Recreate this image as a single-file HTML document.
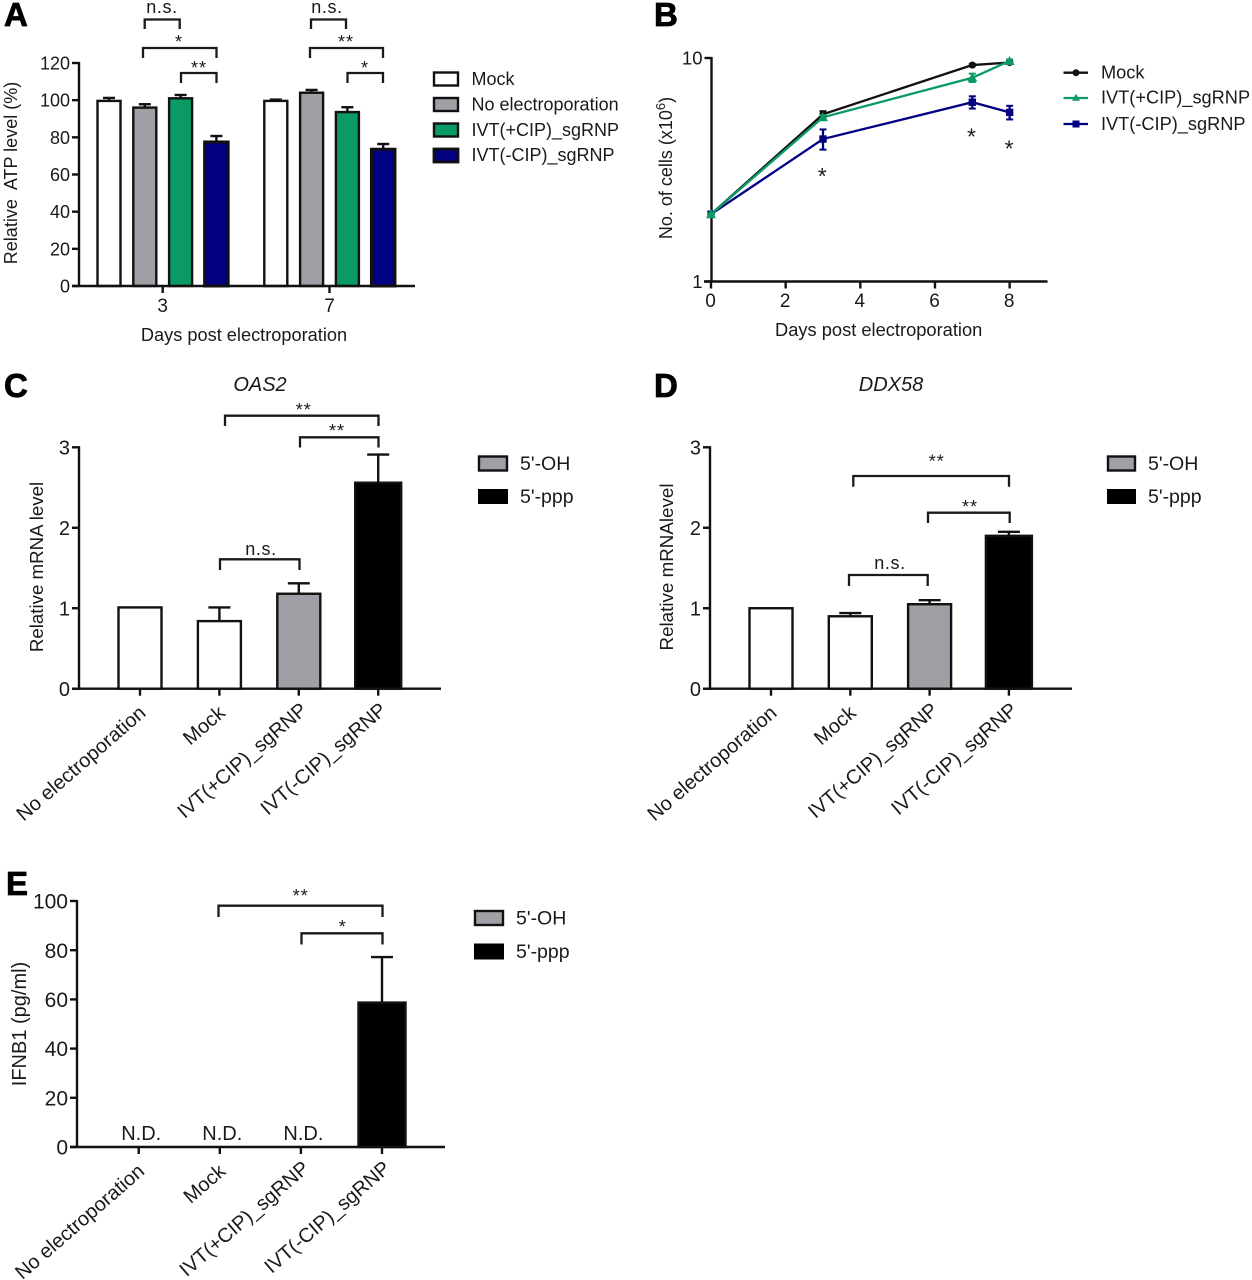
<!DOCTYPE html>
<html lang="en">
<head>
<meta charset="utf-8">
<title>Five panel figure of cell viability and innate immune response</title>
<style>
  html, body { margin: 0; padding: 0; background: #fff; }
  svg { display: block; }
  text { font-family: "Liberation Sans", Arial, sans-serif; font-size: 18px; fill: #1a1a1a; }
  .letter { font-size: 33px; font-weight: bold; fill: #000; stroke: #000; stroke-width: 0.8px; }
  .ann { fill: none; stroke: #1a1a1a; stroke-width: 2.3; }
  .ns { letter-spacing: 0.6px; text-anchor: middle; }
  .star { letter-spacing: 1px; text-anchor: middle; }
  .mid { text-anchor: middle; }
  .title { font-style: italic; text-anchor: middle; font-size: 20px; }
  .big { font-size: 19.5px; }
</style>
</head>
<body>
<svg id="figure" xmlns="http://www.w3.org/2000/svg" width="1252" height="1280" viewBox="0 0 1252 1280">
  <rect x="0" y="0" width="1252" height="1280" fill="#ffffff"/>

  <!-- panel letters -->
  <text class="letter" x="4" y="26">A</text>
  <text class="letter" x="654" y="26">B</text>
  <text class="letter" x="4" y="397">C</text>
  <text class="letter" x="654" y="397">D</text>
  <text class="letter" x="6" y="895">E</text>

  <!-- panel A annotations -->
  <g>
    <path class="ann" d="M144.7 29V19.5H179.7V29"/>
    <text class="ns" x="162" y="13">n.s.</text>
    <path class="ann" d="M143 58V48H216.5V58"/>
    <text class="star" x="179" y="48">*</text>
    <path class="ann" d="M181 83V73H216.5V83"/>
    <text class="star" x="199" y="74">**</text>
    <path class="ann" d="M311 29V19.5H346V29"/>
    <text class="ns" x="327" y="13">n.s.</text>
    <path class="ann" d="M310 58V48H383V58"/>
    <text class="star" x="346" y="48">**</text>
    <path class="ann" d="M347.5 83V73H383V83"/>
    <text class="star" x="365" y="74">*</text>
  </g>
  <text class="mid" transform="translate(17 173) rotate(-90)" xml:space="preserve">Relative  ATP level (%)</text>
  <text class="mid" x="244" y="341" style="font-size:18.2px">Days post electroporation</text>

  <!-- panel A legend -->
  <g>
    <rect x="434" y="72.5" width="24" height="13" fill="#ffffff" stroke="#111" stroke-width="2.4"/>
    <text x="471.5" y="85">Mock</text>
    <rect x="434" y="98" width="24" height="13" fill="#9f9fa5" stroke="#111" stroke-width="2.4"/>
    <text x="471.5" y="110.7">No electroporation</text>
    <rect x="434" y="123.5" width="24" height="13" fill="#0a9b64" stroke="#111" stroke-width="2.4"/>
    <text x="471.5" y="136">IVT(+CIP)_sgRNP</text>
    <rect x="434" y="149" width="24" height="13" fill="#000080" stroke="#111" stroke-width="2.8"/>
    <text x="471.5" y="161">IVT(-CIP)_sgRNP</text>
  </g>

  <!-- panel B static -->
  <text class="mid" transform="translate(672 168) rotate(-90)">No. of cells (x10<tspan dy="-7" style="font-size:13px">6</tspan><tspan dy="7">)</tspan></text>
  <text class="mid" x="878.7" y="336" style="font-size:18.3px">Days post electroporation</text>
  <text class="star" x="822.7" y="184" style="font-size:23px">*</text>
  <text class="star" x="972" y="144.3" style="font-size:23px">*</text>
  <text class="star" x="1009.6" y="156.3" style="font-size:23px">*</text>
  <g>
    <path d="M1063.5 72.7H1088" stroke="#111" stroke-width="2.3" fill="none"/>
    <circle cx="1076" cy="72.7" r="3.5" fill="#111"/>
    <text x="1101" y="78.5" style="font-size:18.2px">Mock</text>
    <path d="M1063.5 98H1088" stroke="#0a9b64" stroke-width="2.3" fill="none"/>
    <path d="M1076 93.8L1080 100.8H1072Z" fill="#0a9b64"/>
    <text x="1101" y="103.5" style="font-size:18.2px">IVT(+CIP)_sgRNP</text>
    <path d="M1063.5 124H1088" stroke="#000080" stroke-width="2.3" fill="none"/>
    <rect x="1072.5" y="120.5" width="7" height="7" fill="#000080"/>
    <text x="1101" y="130" style="font-size:18.2px">IVT(-CIP)_sgRNP</text>
  </g>

  <!-- panel C static -->
  <text class="title" x="260" y="391">OAS2</text>
  <text class="mid" transform="translate(43 567) rotate(-90)" style="font-size:18.7px">Relative mRNA level</text>
  <g>
    <path class="ann" d="M225 426V415.7H378.5V426"/>
    <text class="star" x="303.7" y="416">**</text>
    <path class="ann" d="M300 447.5V437.3H378.5V447.5"/>
    <text class="star" x="337" y="437">**</text>
    <path class="ann" d="M220 570V559.3H299.5V570"/>
    <text class="ns" x="261" y="555">n.s.</text>
  </g>
  <g>
    <rect x="479" y="456.5" width="28" height="14" fill="#9f9fa5" stroke="#111" stroke-width="2.4"/>
    <text class="big" x="520" y="470">5'-OH</text>
    <rect x="478" y="489" width="30" height="15" fill="#000"/>
    <text class="big" x="520" y="503">5'-ppp</text>
  </g>

  <!-- panel D static -->
  <text class="title" x="891" y="391">DDX58</text>
  <text class="mid" transform="translate(673 567) rotate(-90)" style="font-size:18.8px">Relative mRNAlevel</text>
  <g>
    <path class="ann" d="M853.3 486.7V476H1009V486.7"/>
    <text class="star" x="936.7" y="467.5">**</text>
    <path class="ann" d="M928 523V512.7H1009.7V523"/>
    <text class="star" x="970" y="513">**</text>
    <path class="ann" d="M849 586V575H927.7V586"/>
    <text class="ns" x="890" y="569">n.s.</text>
  </g>
  <g>
    <rect x="1108" y="456.5" width="27" height="14" fill="#9f9fa5" stroke="#111" stroke-width="2.4"/>
    <text class="big" x="1148" y="470">5'-OH</text>
    <rect x="1107" y="489" width="29" height="15" fill="#000"/>
    <text class="big" x="1148" y="503">5'-ppp</text>
  </g>

  <!-- panel E static -->
  <text class="mid" transform="translate(26 1024) rotate(-90)" style="font-size:20px">IFNB1 (pg/ml)</text>
  <g>
    <path class="ann" d="M218.5 917V905.7H382.5V917"/>
    <text class="star" x="300.7" y="902">**</text>
    <path class="ann" d="M301.5 944.5V933.3H382.5V944.5"/>
    <text class="star" x="342.7" y="933">*</text>
  </g>
  <g>
    <rect x="475" y="911" width="28" height="14" fill="#9f9fa5" stroke="#111" stroke-width="2.4"/>
    <text class="big" x="516" y="924.5">5'-OH</text>
    <rect x="474" y="943.5" width="30" height="16" fill="#000"/>
    <text class="big" x="516" y="958">5'-ppp</text>
  </g>
</svg>

<script>
// ---------- chart data ----------
// Panel A
const aGroups = ['3', '7'];
const aSeriesNames = ['Mock', 'No electroporation', 'IVT(+CIP)_sgRNP', 'IVT(-CIP)_sgRNP'];
const aValues = [[99.6, 96, 101, 77.5], [99.6, 104, 93.6, 73.6]];
const aErrors = [[1.6, 1.8, 1.8, 3.2], [0.7, 1.5, 2.6, 2.8]];
const aTicks = [0, 20, 40, 60, 80, 100, 120];

// Panel B
const bDays = [0, 3, 7, 8];
const bMock = [2.0, 5.6, 9.3, 9.55];
const bPlus = [2.0, 5.43, 8.16, 9.7];
const bMinus = [2.0, 4.34, 6.34, 5.71];
const bMockErr = [0.02, 0.18, 0.1, 0.1];
const bPlusErr = [0.02, 0.12, 0.35, 0.15];
const bMinusErr = [0.02, 0.45, 0.4, 0.4];
const bXTicks = [0, 2, 4, 6, 8];
const bYTicks = [1, 10];

// Panels C, D, E
const categories = ['No electroporation', 'Mock', 'IVT(+CIP)_sgRNP', 'IVT(-CIP)_sgRNP'];
const cValues = [1.01, 0.84, 1.18, 2.56];
const cErrors = [0, 0.17, 0.13, 0.35];
const cTicks = [0, 1, 2, 3];
const dValues = [1.0, 0.9, 1.05, 1.9];
const dErrors = [0, 0.04, 0.05, 0.05];
const dTicks = [0, 1, 2, 3];
const eValues = [null, null, null, 58.7];
const eErrors = [0, 0, 0, 18.5];
const eTicks = [0, 20, 40, 60, 80, 100];
const notDetectedLabel = 'N.D.';

// ---------- drawing helpers ----------
const NS = 'http://www.w3.org/2000/svg';
const svg = document.getElementById('figure');
const INK = '#111';
const GRAY = '#9f9fa5';
const GREEN = '#0a9b64';
const NAVY = '#000080';
const LW = 2.4;

function add(parent, tag, props, name, text) {
  const el = document.createElementNS(NS, tag);
  for (const k in props) el.setAttribute(k, props[k]);
  
  
  if (text !== undefined) el.textContent = text;
  parent.appendChild(el);
  return el;
}
function line(g, x1, y1, x2, y2, stroke, width, name) {
  return add(g, 'line', { x1, y1, x2, y2, stroke, 'stroke-width': width }, name);
}
function yAxis(g, axisX, top, bottom, ticks, scale, prefix, fontPx) {
  line(g, axisX, top - 1, axisX, bottom + 1, INK, LW, prefix + '-y-axis');
  ticks.forEach(function (t) {
    line(g, axisX - 7, scale(t), axisX, scale(t), INK, LW, prefix + '-y-tick-' + t);
    add(g, 'text', { x: axisX - 9, y: scale(t) + fontPx * 0.36, 'text-anchor': 'end', style: 'font-size:' + fontPx + 'px' }, prefix + '-y-tick-label-' + t, String(t));
  });
}
function errorBar(g, x, yLow, yHigh, capW, color, width, name) {
  if (Math.abs(yLow - yHigh) < 0.01) return;
  line(g, x, yLow, x, yHigh, color, width, name + '-stem');
  line(g, x - capW / 2, yHigh, x + capW / 2, yHigh, color, width, name + '-cap');
}

// ---------- panel A ----------
(function () {
  const g = add(svg, 'g', {}, 'panel-a-bar-chart');
  const y0 = 286, yMax = 63, max = 120;
  const y = function (v) { return y0 - v * (y0 - yMax) / max; };
  const x = function (gi, si) { return 109 + 35.8 * si + 166.8 * gi; };
  const fills = ['#ffffff', GRAY, GREEN, NAVY];
  aValues.forEach(function (vals, gi) {
    vals.forEach(function (v, si) {
      const cx = x(gi, si), sw = si === 3 ? 3 : LW, w = si === 3 ? 23.5 : 23;
      errorBar(g, cx, y(v), y(v + aErrors[gi][si]), 12, INK, LW, 'error-bar-day-' + aGroups[gi] + '-series-' + si);
      add(g, 'rect', { x: cx - w / 2, y: y(v), width: w, height: y0 - y(v), fill: fills[si], stroke: INK, 'stroke-width': sw }, 'bar-day-' + aGroups[gi] + '-series-' + si);
    });
    const tx = (x(gi, 0) + x(gi, 3)) / 2;
    line(g, tx, y0, tx, y0 + 7, INK, LW, 'x-tick-day-' + aGroups[gi]);
    add(g, 'text', { x: tx, y: 312, 'text-anchor': 'middle', style: 'font-size:19px' }, 'x-tick-label-day-' + aGroups[gi], aGroups[gi]);
  });
  yAxis(g, 79, yMax, y0, aTicks, y, 'panel-a', 18);
  line(g, 72, y0, 415, y0, INK, LW, 'panel-a-x-axis');
})();

// ---------- panel B ----------
(function () {
  const g = add(svg, 'g', {}, 'panel-b-line-chart');
  const y0 = 281.5, y10 = 58;
  const y = function (v) { return y0 - (y0 - y10) * Math.log10(v); };
  const x = function (d) { return 711 + 37.33 * d; };
  yAxis(g, 711.5, y10, y0, bYTicks, y, 'panel-b', 18.5);
  line(g, 704, y0, 1047.5, y0, INK, LW, 'panel-b-x-axis');
  bXTicks.forEach(function (t) {
    line(g, x(t), y0, x(t), y0 + 7, INK, LW, 'panel-b-x-tick-' + t);
    add(g, 'text', { x: x(t) - 0.5, y: 307, 'text-anchor': 'middle', style: 'font-size:19px' }, 'panel-b-x-tick-label-' + t, String(t));
  });
  const series = [
    { name: 'mock', vals: bMock, errs: bMockErr, color: INK, marker: 'circle' },
    { name: 'ivt-minus-cip', vals: bMinus, errs: bMinusErr, color: NAVY, marker: 'square' },
    { name: 'ivt-plus-cip', vals: bPlus, errs: bPlusErr, color: GREEN, marker: 'triangle' }
  ];
  series.forEach(function (s) {
    const pts = bDays.map(function (d, i) { return x(d) + ',' + y(s.vals[i]); }).join(' ');
    add(g, 'polyline', { points: pts, fill: 'none', stroke: s.color, 'stroke-width': 2.3 }, 'line-' + s.name);
    bDays.forEach(function (d, i) {
      const cx = x(d), cy = y(s.vals[i]);
      const hi = y(s.vals[i] + s.errs[i]), lo = y(s.vals[i] - s.errs[i]);
      const capName = 'error-bar-' + s.name + '-day-' + d;
      line(g, cx, lo, cx, hi, s.color, 2.3, capName + '-stem');
      line(g, cx - 3.5, hi, cx + 3.5, hi, s.color, 2, capName + '-top-cap');
      line(g, cx - 3.5, lo, cx + 3.5, lo, s.color, 2, capName + '-bottom-cap');
      const mName = 'point-' + s.name + '-day-' + d;
      if (s.marker === 'circle') {
        add(g, 'circle', { cx: cx, cy: cy, r: 3.6, fill: s.color }, mName);
      } else if (s.marker === 'square') {
        add(g, 'rect', { x: cx - 3.7, y: cy - 3.7, width: 7.4, height: 7.4, fill: s.color }, mName);
      } else {
        add(g, 'polygon', { points: cx + ',' + (cy - 5) + ' ' + (cx + 5) + ',' + (cy + 4) + ' ' + (cx - 5) + ',' + (cy + 4), fill: s.color }, mName);
      }
    });
  });
})();

// ---------- panels C, D, E ----------
function categoryChart(o) {
  const g = add(svg, 'g', {}, 'panel-' + o.id + '-bar-chart');
  const y = function (v) { return o.y0 - v * (o.y0 - o.yTop) / o.max; };
  const x = function (i) { return o.x0 + o.step * i; };
  const fills = ['#ffffff', '#ffffff', GRAY, '#000000'];
  o.values.forEach(function (v, i) {
    const cx = x(i), cat = categories[i];
    const key = 'panel-' + o.id + '-' + i;
    if (v === null) {
      add(g, 'text', { x: cx + 2.5, y: o.y0 - 7, 'text-anchor': 'middle', style: 'font-size:20px' }, 'not-detected-label-' + key, notDetectedLabel);
    } else {
      errorBar(g, cx, y(v), y(v + o.errors[i]), 22, INK, LW, 'error-bar-' + key);
      const w = i === 3 ? o.wideW : o.barW;
      add(g, 'rect', { x: cx - w / 2 + (i === 3 ? o.wideShift : 0), y: y(v), width: w, height: o.y0 - y(v), fill: fills[i], stroke: INK, 'stroke-width': LW }, 'bar-' + key);
    }
    line(g, cx, o.y0, cx, o.y0 + 7, INK, LW, 'x-tick-' + key);
    const nudgeX = i >= 2 ? 2.5 : 0, nudgeY = i >= 2 ? -4 : -1;
    const lx = cx + o.labelDx + nudgeX, ly = o.y0 + o.labelDy + nudgeY;
    add(g, 'text', { x: lx, y: ly, 'text-anchor': 'end', style: 'font-size:20px', transform: 'rotate(-41 ' + lx + ' ' + ly + ')' }, 'x-tick-label-' + key, cat);
  });
  yAxis(g, o.axisX, o.yTop, o.y0, o.ticks, y, 'panel-' + o.id, o.tickPx);
  line(g, o.axisX - 7, o.y0, o.xEnd, o.y0, INK, LW, 'panel-' + o.id + '-x-axis');
}
categoryChart({ id: 'c', values: cValues, errors: cErrors, ticks: cTicks, max: 3, y0: 688.7, yTop: 447.3, axisX: 79, xEnd: 441, x0: 140, step: 79.4, barW: 43, wideW: 46, wideShift: 0, labelDx: 7, labelDy: 27, tickPx: 20 });
categoryChart({ id: 'd', values: dValues, errors: dErrors, ticks: dTicks, max: 3, y0: 688.7, yTop: 447.3, axisX: 710, xEnd: 1072, x0: 771, step: 79.3, barW: 43, wideW: 46, wideShift: 0, labelDx: 7, labelDy: 27, tickPx: 20 });
categoryChart({ id: 'e', values: eValues, errors: eErrors, ticks: eTicks, max: 100, y0: 1147, yTop: 901, axisX: 77, xEnd: 445, x0: 138.7, step: 81.1, barW: 47, wideW: 47, wideShift: 0, labelDx: 7, labelDy: 27, tickPx: 21 });
</script>
</body>
</html>
